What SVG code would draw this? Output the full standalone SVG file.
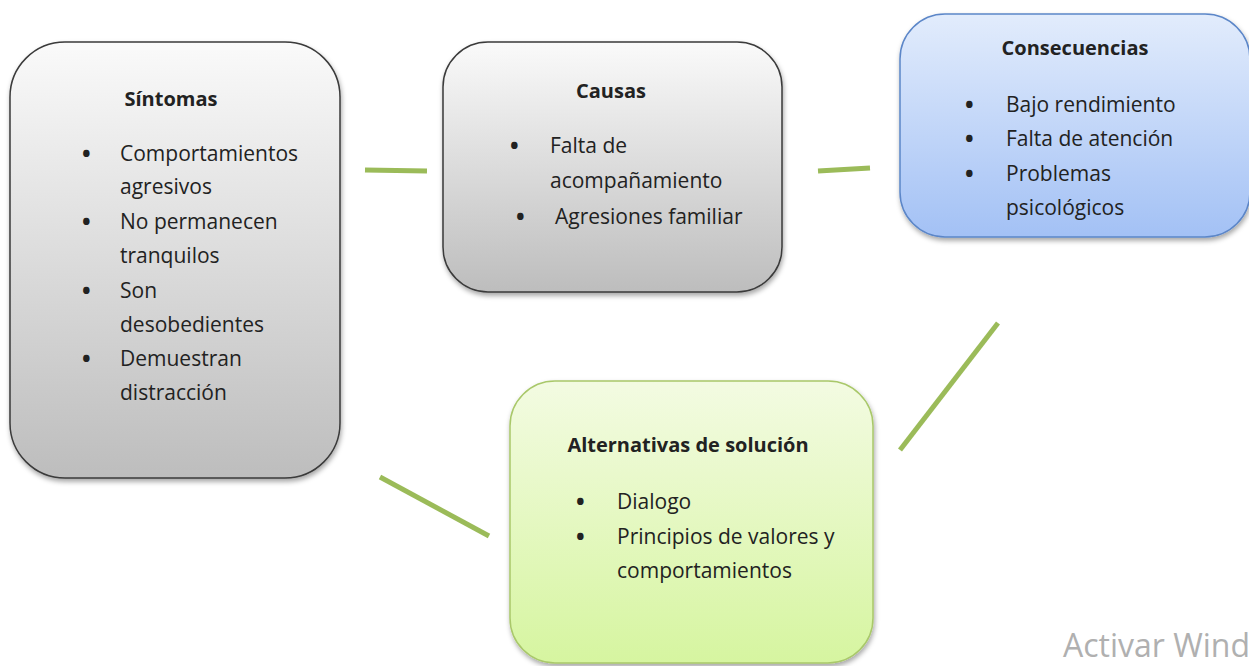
<svg xmlns="http://www.w3.org/2000/svg" width="1249" height="666" viewBox="0 0 1249 666">
<defs>
<linearGradient id="gGray" x1="0" y1="0" x2="0" y2="1"><stop offset="0" stop-color="#fafafa"/><stop offset="1" stop-color="#bdbdbd"/></linearGradient>
<linearGradient id="gBlue" x1="0" y1="0" x2="0" y2="1"><stop offset="0" stop-color="#e2ecfc"/><stop offset="1" stop-color="#a3c1f5"/></linearGradient>
<linearGradient id="gGreen" x1="0" y1="0" x2="0" y2="1"><stop offset="0" stop-color="#f3fbe2"/><stop offset="1" stop-color="#d6f5a0"/></linearGradient>
<filter id="sh" x="-10%" y="-10%" width="120%" height="120%"><feDropShadow dx="1" dy="3" stdDeviation="2.5" flood-color="#000" flood-opacity="0.35"/></filter>
</defs>
<style>
text{font-family:"Open Sans","Liberation Sans",sans-serif;font-size:21px;fill:#222}
.t{font-weight:bold;font-size:20px}
.b{font-size:23px;font-weight:bold}
.conn line{stroke:#9bbb59;stroke-width:5}
.wm{fill:#b0b0b0;font-size:32px}
</style>
<rect width="1249" height="666" fill="#fff"/>
<g class="conn">
<line x1="365" y1="170" x2="427" y2="171"/>
<line x1="818" y1="171" x2="870" y2="168"/>
<line x1="998" y1="323" x2="900" y2="450"/>
<line x1="380" y1="477" x2="489" y2="536"/>
</g>
<g id="sintomas">
<rect x="10" y="42" width="330" height="436" rx="55" fill="url(#gGray)" stroke="#3a3a3a" stroke-width="1.5" filter="url(#sh)"/>
<text class="t" x="171" y="106" text-anchor="middle">Síntomas</text>
<text class="b" x="82" y="162">•</text><text x="120" y="161">Comportamientos</text>
<text x="120" y="194">agresivos</text>
<text class="b" x="82" y="230">•</text><text x="120" y="229">No permanecen</text>
<text x="120" y="263">tranquilos</text>
<text class="b" x="82" y="299">•</text><text x="120" y="298">Son</text>
<text x="120" y="332">desobedientes</text>
<text class="b" x="82" y="367">•</text><text x="120" y="366">Demuestran</text>
<text x="120" y="400">distracción</text>
</g>
<g id="causas">
<rect x="443" y="42" width="339" height="250" rx="45" fill="url(#gGray)" stroke="#3a3a3a" stroke-width="1.5" filter="url(#sh)"/>
<text class="t" x="611" y="98" text-anchor="middle">Causas</text>
<text class="b" x="510" y="154">•</text><text x="550" y="153">Falta de</text>
<text x="550" y="188">acompañamiento</text>
<text class="b" x="516" y="225">•</text><text x="555" y="224">Agresiones familiar</text>
</g>
<g id="consecuencias">
<rect x="900" y="14" width="350" height="223" rx="45" fill="url(#gBlue)" stroke="#5b86c8" stroke-width="1.5" filter="url(#sh)"/>
<text class="t" x="1075" y="55" text-anchor="middle">Consecuencias</text>
<text class="b" x="965" y="113">•</text><text x="1006" y="112">Bajo rendimiento</text>
<text class="b" x="965" y="147">•</text><text x="1006" y="146">Falta de atención</text>
<text class="b" x="965" y="182">•</text><text x="1006" y="181">Problemas</text>
<text x="1006" y="215">psicológicos</text>
</g>
<g id="alternativas">
<rect x="510" y="381" width="363" height="282" rx="45" fill="url(#gGreen)" stroke="#a9c86a" stroke-width="1.5" filter="url(#sh)"/>
<text class="t" x="688" y="452" text-anchor="middle">Alternativas de solución</text>
<text class="b" x="576" y="510">•</text><text x="617" y="509">Dialogo</text>
<text class="b" x="576" y="545">•</text><text x="617" y="544">Principios de valores y</text>
<text x="617" y="578">comportamientos</text>
</g>
<text class="wm" x="1063" y="657">Activar Wind</text>
</svg>
